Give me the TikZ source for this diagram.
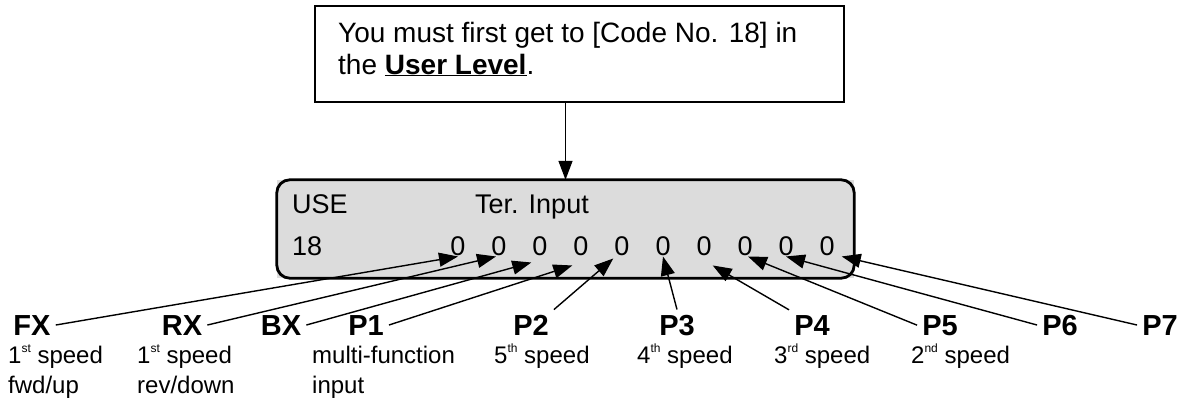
\documentclass[tikz,border=0pt]{standalone}
\usepackage{fontspec}
\setmainfont{Liberation Sans}
\usetikzlibrary{arrows.meta}
\definecolor{ink}{HTML}{000000}
\definecolor{lcdFill}{HTML}{DCDCDC}
\newcommand{\ord}[1]{\raisebox{0.42em}{\fontsize{12}{12}\selectfont #1}}
\tikzset{
    >={Triangle[length=19pt,width=14pt]},
    wire/.style={ink, line width=1.4pt, ->},
    note box/.style={draw=ink, line width=1.5pt},
    lcd frame/.style={draw=ink, line width=2.8pt, rounded corners=13pt},
    note text/.style={font=\fontsize{28}{32}\selectfont, align=left, inner sep=0pt, anchor=base west},
    lcd text/.style={font=\fontsize{27}{32}\selectfont, inner sep=0pt, anchor=base west},
    lcd digit/.style={font=\fontsize{27}{32}\selectfont, inner sep=1pt, anchor=base},
    pin label/.style={font=\bfseries\fontsize{29}{32}\selectfont, inner sep=5pt, anchor=base},
    pin note/.style={font=\fontsize{24}{30}\selectfont, align=left, inner sep=0pt, anchor=base west},
}

\begin{document}
\begin{tikzpicture}[x=1pt, y=-1pt]
\useasboundingbox (0,0) rectangle (1183,400);

% Instruction box above the display (multi-line text sits on its last baseline).
\draw[note box] (315,6) rectangle (844,102);
\coordinate (note south) at (579.5,102);
\node[note text] (note) at (338,74)
    {You must first get to [Code No. 18] in\\
     the \underline{\textbf{User Level}}.};

% Display panel: square fill, rounded frame.
\node[minimum width=577pt, minimum height=98pt, inner sep=0pt] (lcd) at (565.5,229) {};
\fill[lcdFill] (lcd.south west) rectangle (lcd.north east);
\draw[lcd frame] (lcd.south west) rectangle (lcd.north east);
\draw[wire] (lcd.north |- note south) -- (lcd.north);

\node[lcd text] (use) at (292,213) {USE};
\node[lcd text] (title) at (475,213) {Ter. Input};
\node[lcd text] (code) at (292,255) {18};
\foreach \i in {1,...,10} {
    \node[lcd digit] (d\i) at ({458+41*(\i-1)},255) {0};
}

% Terminal names and their functions.
\foreach \name/\x in {FX/32, RX/182, BX/281, P1/366, P2/531,
                      P3/677, P4/812, P5/940, P6/1060, P7/1160} {
    \node[pin label] (\name) at (\x,335) {\name};
}
\node[pin note] (fx note) at (8,393) {1\ord{st} speed\\fwd/up};
\node[pin note] (rx note) at (137,393) {1\ord{st} speed\\rev/down};
\node[pin note] (p1 note) at (312,393) {multi-function\\input};
\node[pin note] (p2 note) at (494,363) {5\ord{th} speed};
\node[pin note] (p3 note) at (637,363) {4\ord{th} speed};
\node[pin note] (p4 note) at (774,363) {3\ord{rd} speed};
\node[pin note] (p5 note) at (911,363) {2\ord{nd} speed};

% One connector per terminal, each to its digit.
\draw[wire] (FX.east) -- (d1.south);
\draw[wire] (RX.east) -- ([xshift=-3pt]d2.south);
\draw[wire] (BX.east) -- ([yshift=-6pt]d3.south west);
\draw[wire] (P1.east) -- ([yshift=-9pt]d4.south west);
\draw[wire] (P2.north east) -- ([yshift=-2pt]d5.south west);
\draw[wire] (P3.north) -- (d6.south);
\draw[wire] (P4.north west) -- ([yshift=-9pt]d7.south east);
\draw[wire] (P5.west) -- ([xshift=3pt]d8.south);
\draw[wire] (P6.west) -- (d9.south);
\draw[wire] (P7.west) -- ([xshift=6pt]d10.south east);

\end{tikzpicture}
\end{document}
